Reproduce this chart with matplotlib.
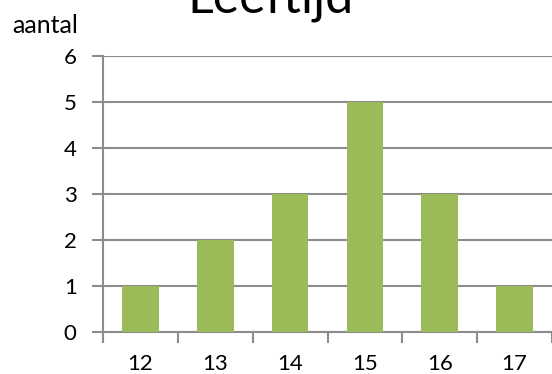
import numpy as np
import matplotlib.pyplot as plt

# leeftijd vs aantal
leeftijd = ["12", "13", "14", "15", "16", "17"]
aantal = [1, 2, 3, 5, 3, 1]

plt.rcParams['font.family'] = ['Lato', 'DejaVu Sans']

fig = plt.figure(figsize=(5.52, 3.74), dpi=100)
W, H = 552.0, 374.0
ax = fig.add_axes([103/W, 1-332/H, 1-103/W, (332-56)/H])

x = np.arange(len(leeftijd))
ax.bar(x, aantal, width=0.49, color='#9BBB59', zorder=3)

grey = '#8C8C8C'
ax.set_ylim(0, 6)
ax.set_xlim(-0.5, 5.5)
ax.set_yticks(range(0, 7))
ax.yaxis.grid(True, color=grey, linewidth=1.5, zorder=0)
ax.set_xticks(x)
ax.set_xticklabels(leeftijd)
ax.set_xticks(np.arange(-0.5, 6, 1), minor=True)
ax.tick_params(axis='x', which='major', length=0, pad=16, labelsize=16)
ax.tick_params(axis='x', which='minor', length=8, width=1.5, color=grey)
ax.tick_params(axis='y', length=8, width=1.5, color=grey, labelsize=16, pad=11)

for s in ['top', 'right']:
    ax.spines[s].set_visible(False)
for s in ['left', 'bottom']:
    ax.spines[s].set_color(grey)
    ax.spines[s].set_linewidth(1.5)

fig.text(12/W, 1-33/H, "aantal", fontsize=18, va='baseline', ha='left')
# title is partly cut off at the top, like in the original
fig.text(271/W, 1-13/H, "Leeftijd", fontsize=36, va='baseline', ha='center')

fig.savefig("out.png", dpi=100)
